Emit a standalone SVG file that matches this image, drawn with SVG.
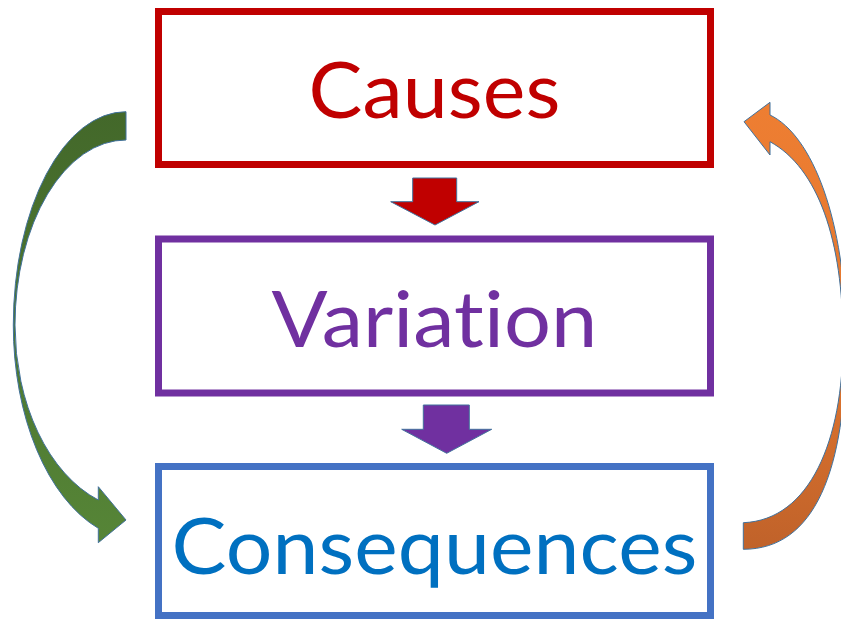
<svg xmlns="http://www.w3.org/2000/svg" width="841" height="620" viewBox="0 0 841 620">
  <style>
    .box { fill: #FFFFFF; stroke-width: 7; }
    .lbl { font-family: Lato, "Open Sans", "Liberation Sans", sans-serif; font-size: 78px; text-anchor: middle; letter-spacing: 0.1px; font-variant-ligatures: none; font-feature-settings: "liga" 0, "clig" 0, "dlig" 0; }
    .arr { stroke: #41719C; stroke-width: 1; stroke-linejoin: miter; }
  </style>
  <defs>
    <linearGradient id="gGreen" x1="0" y1="111" x2="0" y2="543" gradientUnits="userSpaceOnUse">
      <stop offset="0" stop-color="#43682A"/>
      <stop offset="1" stop-color="#568537"/>
    </linearGradient>
    <linearGradient id="gOrange" x1="0" y1="102" x2="0" y2="550" gradientUnits="userSpaceOnUse">
      <stop offset="0" stop-color="#EE7E32"/>
      <stop offset="0.5" stop-color="#E4782F"/>
      <stop offset="1" stop-color="#C0622A"/>
    </linearGradient>
  </defs>
  <rect width="841" height="620" fill="#FFFFFF"/>

  <g id="connectors">
    <path id="arrow-causes-variation" class="arr" fill="#C00000" d="M412.7,178 L456.7,178 L456.7,201.7 L479,201.7 L435,225 L390.7,201.7 L412.7,201.7 Z"/>
    <path id="arrow-variation-consequences" class="arr" fill="#7030A0" d="M423.3,405 L469.3,405 L469.3,429.3 L491.7,429.3 L446.7,453.3 L401.7,429.3 L423.3,429.3 Z"/>
    <path id="arrow-causes-consequences" class="arr" fill="url(#gGreen)" d="M126,111.7 A112.7,213.3 0 0 0 13.3,325 A126.7,215 0 0 0 98.3,528.3 L98.3,542.7 L126,520 L98.3,486.7 L98.3,500 A125,185.6 0 0 1 15,325 A111,185 0 0 1 126,140 Z"/>
    <path id="arrow-consequences-causes" class="arr" fill="url(#gOrange)" d="M770,115 C812,135 846,220 846,340 C846,470 815,549.3 743.3,549.3 L743.3,522.7 C810,520 843,440 843,340 C843,240 818,168 770,141.7 L770,155 L744,121.7 L770,102.3 Z"/>
  </g>

  <g id="node-causes">
    <rect class="box" x="158.5" y="11.5" width="552" height="153" stroke="#C00000"/>
    <text class="lbl" x="434.5" y="118" fill="#C00000" textLength="252" lengthAdjust="spacingAndGlyphs">Causes</text>
  </g>
  <g id="node-variation">
    <rect class="box" x="158.5" y="239" width="552" height="154" stroke="#7030A0"/>
    <text class="lbl" x="434.5" y="347" fill="#7030A0" textLength="326" lengthAdjust="spacingAndGlyphs">Variation</text>
  </g>
  <g id="node-consequences">
    <rect class="box" x="158.5" y="466.5" width="552" height="149" stroke="#4472C4"/>
    <text class="lbl" x="434.5" y="574" fill="#0070C0" textLength="526" lengthAdjust="spacingAndGlyphs">Consequences</text>
  </g>
</svg>
